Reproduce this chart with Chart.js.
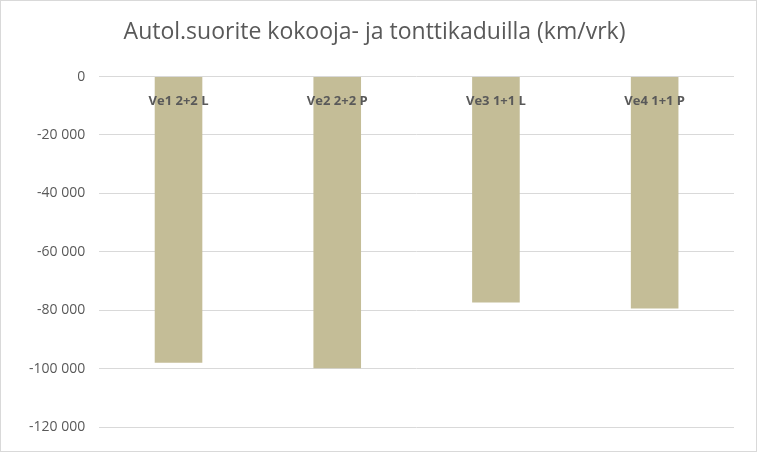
<!DOCTYPE html>
<html><head><meta charset="utf-8">
<script src="https://cdn.jsdelivr.net/npm/chart.js@4"></script>
<style>html,body{margin:0;padding:0;background:#fff}#w{width:755px;height:450px;border:1px solid #d9d9d9}</style>
</head><body><div id="w"><canvas id="c"></canvas></div>
<script>
const categories = ["Ve1 2+2 L","Ve2 2+2 P","Ve3 1+1 L","Ve4 1+1 P"];
const values = [-98000,-99900,-77400,-79400];
const labelPlugin = {
  id:'catLabels',
  afterDatasetsDraw(chart){
    const ctx=chart.ctx, x=chart.scales.x, y=chart.scales.y;
    ctx.save();
    ctx.font='bold 13px "Open Sans", sans-serif';
    ctx.fillStyle='#595959';ctx.textAlign='center';ctx.textBaseline='middle';
    categories.forEach((c,i)=>ctx.fillText(c,x.getPixelForValue(i),y.getPixelForValue(0)+25));
    ctx.restore();
  }
};
new Chart(document.getElementById('c'),{
  type:'bar',
  data:{labels:categories,datasets:[{data:values,backgroundColor:'#c4bd97',barPercentage:0.3,categoryPercentage:1}]},
  options:{responsive:true,maintainAspectRatio:false,animation:false,
    layout:{padding:{left:14,right:22,top:0,bottom:24}},
    plugins:{legend:{display:false},tooltip:{enabled:false},
      title:{display:true,text:'Autol.suorite kokooja- ja tonttikaduilla (km/vrk)',color:'#595959',
        font:{size:23,family:'"Open Sans", sans-serif',weight:'normal'},padding:{top:18,bottom:30}}},
    scales:{
      x:{display:false},
      y:{min:-120000,max:0,ticks:{stepSize:20000,color:'#595959',font:{size:14,family:'"Open Sans", sans-serif'},padding:14,
          callback:v=>v===0?'0':'-'+Math.abs(v).toLocaleString('en-US').replace(/,/g,' ')},
        grid:{color:'#d9d9d9',drawTicks:false},border:{display:false}}
    }
  },
  plugins:[labelPlugin]
});
</script></body></html>
